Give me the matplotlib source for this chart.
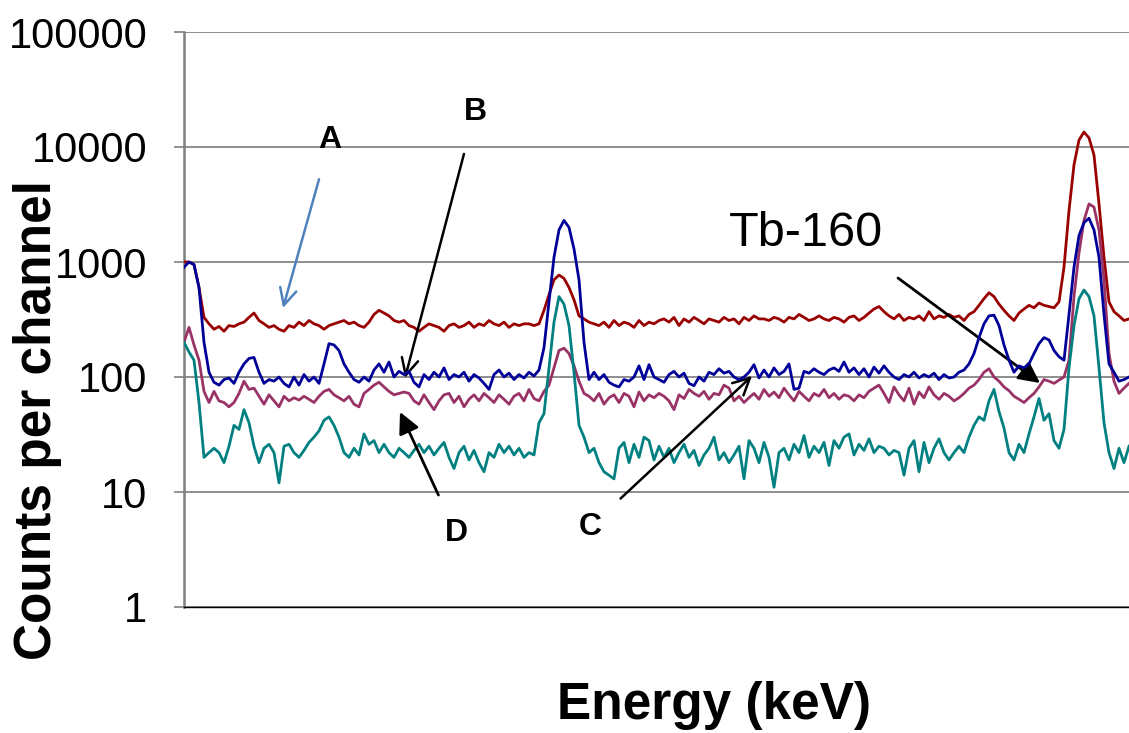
import matplotlib
matplotlib.use("Agg")
import matplotlib.pyplot as plt
import numpy as np

plt.rcParams['font.family'] = ['Liberation Sans', 'DejaVu Sans']

# channel index (relative energy, no tick labels on the axis)
channel = list(range(190))

series_A = [1000, 1000, 950, 600, 330, 290, 260, 275, 250, 280, 275, 290, 300, 330, 360, 310, 290, 270, 280, 260,
            250, 280, 270, 300, 280, 310, 290, 280, 260, 280, 290, 300, 310, 290, 300, 280, 270, 300, 350, 380,
            360, 340, 310, 300, 310, 280, 270, 250, 270, 290, 280, 270, 250, 280, 290, 270, 280, 300, 270, 290,
            280, 310, 290, 280, 300, 270, 290, 280, 290, 290, 280, 290, 380, 520, 700, 770, 720, 600, 470, 340,
            320, 300, 290, 280, 300, 270, 310, 280, 300, 290, 270, 310, 280, 300, 290, 310, 320, 300, 330, 280,
            320, 300, 330, 310, 290, 320, 310, 300, 330, 310, 320, 290, 330, 310, 340, 320, 320, 310, 330, 320,
            300, 330, 320, 350, 330, 310, 320, 340, 320, 310, 330, 320, 300, 330, 340, 310, 330, 360, 390, 410,
            370, 340, 320, 350, 310, 330, 320, 340, 310, 370, 320, 340, 330, 350, 330, 340, 310, 350, 370, 420,
            480, 540, 500, 430, 380, 340, 310, 360, 390, 420, 400, 440, 420, 410, 400, 450, 900, 2800, 7000, 11500,
            13500, 12000, 8500, 3200, 1100, 450, 370, 340, 310, 320]

series_B = [900, 1000, 950, 600, 200, 110, 90, 85, 95, 98, 88, 110, 130, 145, 148, 110, 88, 95, 92, 100,
            88, 82, 100, 85, 105, 92, 100, 88, 130, 195, 190, 170, 130, 110, 95, 90, 100, 92, 115, 130,
            110, 135, 100, 112, 105, 112, 90, 82, 105, 95, 110, 100, 120, 95, 105, 100, 110, 92, 105, 98,
            88, 78, 105, 115, 100, 108, 95, 105, 98, 110, 102, 115, 180, 450, 1100, 1900, 2300, 2000, 1300, 700,
            200, 95, 110, 95, 105, 90, 85, 82, 95, 92, 100, 125, 95, 128, 100, 95, 90, 105, 112, 100,
            108, 88, 84, 100, 92, 110, 105, 118, 108, 112, 100, 95, 100, 110, 128, 98, 115, 100, 120, 105,
            112, 130, 78, 80, 112, 108, 118, 110, 105, 115, 120, 112, 135, 110, 120, 105, 118, 100, 122, 108,
            125, 110, 100, 95, 105, 100, 110, 98, 105, 100, 108, 95, 105, 98, 100, 110, 115, 130, 160, 220,
            290, 340, 345, 280, 190, 140, 110, 125, 120, 130, 160, 195, 220, 210, 170, 150, 140, 350, 900, 1700,
            2200, 2400, 1900, 1100, 350, 130, 110, 92, 95, 100]

series_D = [200, 270, 190, 140, 75, 60, 75, 62, 60, 55, 60, 72, 92, 78, 80, 68, 58, 70, 62, 55,
            68, 62, 66, 63, 68, 64, 60, 68, 75, 78, 70, 66, 62, 68, 58, 55, 72, 78, 85, 90,
            82, 75, 70, 72, 74, 72, 62, 58, 70, 60, 52, 62, 70, 72, 60, 68, 55, 64, 70, 62,
            72, 66, 60, 70, 64, 58, 68, 72, 62, 78, 65, 62, 75, 85, 120, 170, 178, 160, 125, 92,
            72, 68, 62, 72, 58, 66, 70, 60, 72, 68, 55, 74, 62, 70, 66, 72, 68, 62, 52, 70,
            65, 78, 72, 68, 75, 64, 72, 70, 85, 80, 62, 68, 60, 66, 72, 64, 78, 68, 74, 66,
            80, 70, 62, 75, 68, 62, 72, 68, 78, 66, 72, 64, 70, 68, 62, 70, 66, 75, 80, 85,
            72, 60, 82, 70, 62, 80, 58, 74, 66, 82, 70, 64, 72, 68, 62, 66, 72, 80, 85, 95,
            110, 118, 100, 92, 82, 76, 68, 64, 60, 66, 72, 82, 95, 92, 88, 94, 100, 140, 500, 1200,
            2300, 3200, 3000, 1900, 700, 160, 92, 72, 80, 88]

series_C = [200, 165, 140, 60, 20, 22, 24, 22, 18, 25, 38, 35, 52, 40, 25, 18, 24, 26, 22, 12,
            25, 26, 22, 20, 23, 27, 30, 34, 42, 45, 38, 30, 22, 20, 24, 21, 32, 26, 28, 22,
            26, 22, 20, 24, 22, 20, 23, 26, 22, 25, 21, 24, 27, 20, 16, 22, 25, 19, 23, 18,
            15, 22, 20, 26, 22, 25, 21, 24, 20, 22, 21, 40, 48, 120, 300, 500, 430, 280, 110, 38,
            30, 22, 24, 18, 15, 14, 13, 24, 27, 18, 26, 20, 30, 28, 19, 25, 20, 24, 18, 22,
            26, 20, 23, 17, 21, 24, 30, 19, 22, 18, 21, 25, 13, 28, 24, 18, 27, 20, 11, 22,
            24, 19, 26, 22, 31, 20, 25, 22, 27, 17, 28, 24, 30, 32, 21, 26, 23, 29, 22, 25,
            24, 21, 23, 22, 14, 24, 28, 15, 27, 18, 24, 29, 22, 19, 22, 25, 22, 30, 38, 45,
            42, 62, 78, 50, 36, 22, 19, 26, 22, 32, 45, 65, 42, 48, 28, 24, 35, 120, 280, 480,
            570, 500, 340, 120, 40, 22, 16, 24, 18, 25]

y_ticks = [1, 10, 100, 1000, 10000, 100000]
y_tick_labels = ['1', '10', '100', '1000', '10000', '100000']

colors = {'A': '#990000', 'B': '#000099', 'D': '#993366', 'C': '#008080'}

fig = plt.figure(figsize=(11.29, 7.33), dpi=100)
ax = fig.add_axes([184/1129, 1 - 607/733, 1 - 184/1129, (607 - 32)/733])

lw = 2.0
ax.plot(channel, series_A, color=colors['A'], lw=lw, zorder=3)
ax.plot(channel, series_B, color=colors['B'], lw=lw, zorder=4)
ax.plot(channel, series_D, color=colors['D'], lw=lw, zorder=3)
ax.plot(channel, series_C, color=colors['C'], lw=lw, zorder=3)

ax.set_yscale('log')
ax.set_ylim(1, 100000)
ax.set_xlim(0, 189)
ax.set_yticks(y_ticks)
ax.set_yticklabels(y_tick_labels)
ax.yaxis.set_minor_locator(matplotlib.ticker.NullLocator())
ax.set_xticks([])
ax.tick_params(axis='y', length=7.5, width=1.2, color='#808080', pad=19, labelsize=30)
ax.grid(axis='y', color='#868686', lw=1.3, zorder=0)
for s in ['top', 'right']:
    ax.spines[s].set_visible(False)
ax.spines['left'].set_color('#7f7f7f')
ax.spines['left'].set_linewidth(1.8)
ax.spines['bottom'].set_color('#000000')
ax.spines['bottom'].set_linewidth(1.0)

fig.text(38/1129, 1 - 420/733, 'Counts per channel', rotation=90, fontsize=37,
         fontweight='bold', ha='center', va='center')
fig.text(714/1129, 1 - 705/733, 'Energy (keV)', fontsize=37, fontweight='bold',
         ha='center', va='center')

H = 733
def fp(x, y):
    return (x, H - y)

lab_kw = dict(xycoords='figure pixels', textcoords='figure pixels', ha='center', va='center')
fs_lab = 23
ax.annotate('A', xy=fp(283, 308), xytext=fp(330, 140), fontsize=fs_lab, fontweight='bold',
            arrowprops=dict(arrowstyle='->', color='#4F81BD', lw=1.8, mutation_scale=30,
                            shrinkA=16, shrinkB=0), **lab_kw)
ax.annotate('B', xy=fp(405, 378), xytext=fp(475, 112), fontsize=fs_lab, fontweight='bold',
            arrowprops=dict(arrowstyle='->', color='black', lw=1.8, mutation_scale=30,
                            shrinkA=18, shrinkB=0), **lab_kw)
ax.annotate('D', xy=fp(400, 412), xytext=fp(456, 533), fontsize=fs_lab, fontweight='bold',
            arrowprops=dict(arrowstyle='-|>', color='black', lw=2.0, mutation_scale=32,
                            shrinkA=16, shrinkB=0), **lab_kw)
ax.annotate('C', xy=fp(752, 376), xytext=fp(590, 527), fontsize=fs_lab, fontweight='bold',
            arrowprops=dict(arrowstyle='->', color='black', lw=1.8, mutation_scale=30,
                            shrinkA=16, shrinkB=0), **lab_kw)
ax.annotate('', xy=fp(1040, 383), xytext=fp(898, 278),
            arrowprops=dict(arrowstyle='-|>', color='black', lw=2.0, mutation_scale=32,
                            shrinkA=0, shrinkB=0), xycoords='figure pixels', textcoords='figure pixels')
fig.text(806/1129, 1 - 234/733, 'Tb-160', fontsize=35, ha='center', va='center')

fig.savefig('out.png', dpi=100)
